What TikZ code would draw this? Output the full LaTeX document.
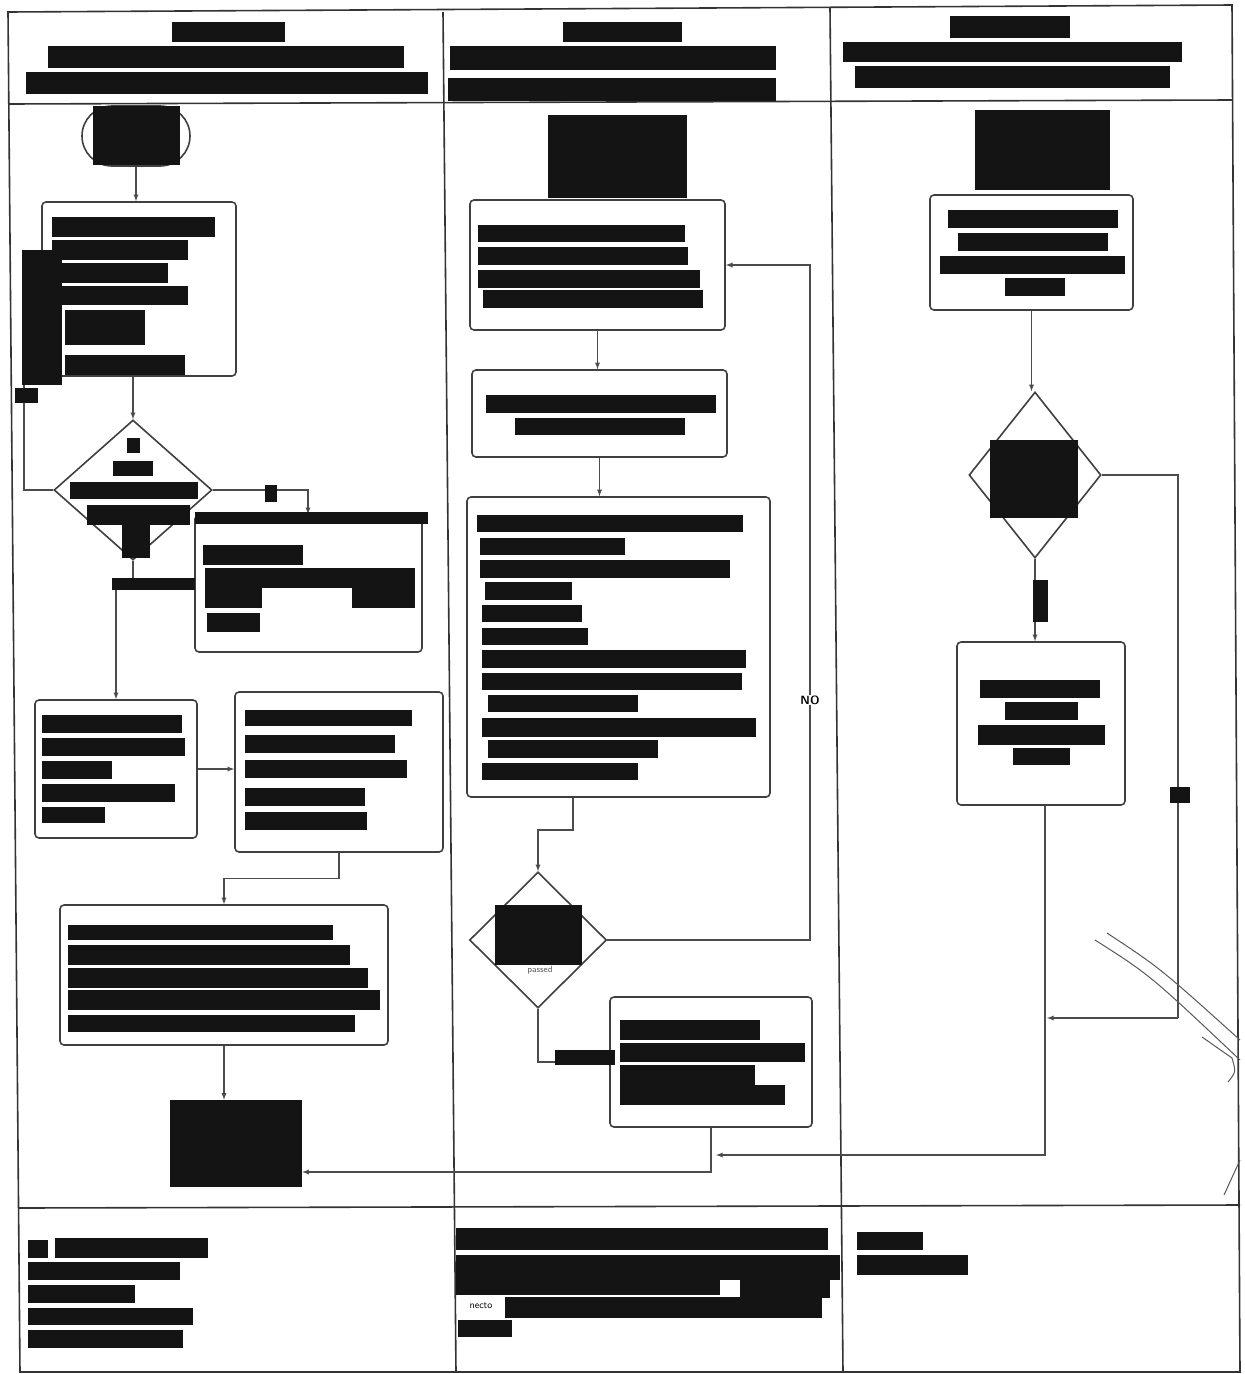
\documentclass[tikz,border=0pt]{standalone}
\usetikzlibrary{shapes.geometric,fit,calc}
\begin{document}
\begin{tikzpicture}[x=1pt,y=-1pt,
  frame/.style={draw=black!80,line width=1.6pt},
  box/.style={draw=black!75,line width=1.6pt,rounded corners=4pt,inner sep=0pt},
  dia/.style={diamond,draw=black!75,line width=1.6pt,inner sep=0pt},
  flow/.style={draw=black!70,line width=1.3pt},
  arr/.style={flow,-latex},
  bar/.style={fill=black!92},
  lbl/.style={font=\sffamily,inner sep=1pt}]
\newcommand\rb[4]{\fill[bar] (#1,#2) rectangle (#3,#4);}
\useasboundingbox (0,0) rectangle (1245,1374);
\fill[white] (0,0) rectangle (1245,1374);

% ---- table frame ----
\draw[frame] (8,12) -- (1232,5) -- (1240,1372) -- (20,1372) -- cycle;
\draw[frame] (8,104) -- (1232,100);
\draw[frame] (18,1208) -- (1240,1205);
\draw[frame] (443,12) -- (456,1372);
\draw[frame] (830,8) -- (843,1372);

% ---- column headings ----
\rb{172}{22}{285}{42}\rb{48}{46}{404}{68}\rb{26}{72}{428}{94}
\rb{563}{22}{682}{42}\rb{450}{46}{776}{70}\rb{448}{78}{776}{101}
\rb{950}{16}{1070}{38}\rb{843}{42}{1182}{62}\rb{855}{66}{1170}{88}

% ================= column 1 =================
\node[box,rounded corners=30pt,fit={(82,106) (190,166)}] (t1) {};
\rb{93}{106}{180}{165}
\node[box,fit={(42,202) (236,376)}] (b1) {};
\rb{52}{217}{215}{237}\rb{52}{240}{188}{260}\rb{52}{263}{168}{283}
\rb{52}{286}{188}{305}\rb{65}{310}{145}{345}\rb{65}{355}{185}{375}
\node[dia,minimum width=158pt,minimum height=140pt] (d1) at (133,490) {};
\rb{127}{438}{140}{453}\rb{113}{461}{153}{476}\rb{70}{482}{198}{499}
\rb{87}{505}{190}{525}\rb{122}{525}{150}{558}
\node[box,fit={(195,515) (422,652)}] (b2) {};
\rb{203}{545}{303}{565}\rb{205}{568}{415}{588}\rb{205}{588}{262}{608}
\rb{352}{588}{415}{608}\rb{207}{613}{260}{632}
\node[box,fit={(35,700) (197,838)}] (b3) {};
\rb{42}{715}{182}{733}\rb{42}{738}{185}{756}\rb{42}{761}{112}{779}
\rb{42}{784}{175}{802}\rb{42}{807}{105}{823}
\node[box,fit={(235,692) (443,852)}] (b4) {};
\rb{245}{710}{412}{726}\rb{245}{735}{395}{753}\rb{245}{760}{407}{778}
\rb{245}{788}{365}{806}\rb{245}{812}{367}{830}
\node[box,fit={(60,905) (388,1045)}] (b5) {};
\rb{68}{925}{333}{940}\rb{68}{945}{350}{965}\rb{68}{968}{368}{988}
\rb{68}{990}{380}{1010}\rb{68}{1015}{355}{1032}
\node[fill=black!92,inner sep=0pt,fit={(170,1100) (302,1187)}] (e1) {};

\draw[arr] (t1.south) -- (t1.south |- b1.north);
\draw[arr] (b1.south -| d1.north) -- (d1.north);
\coordinate (l1) at (24,300);
\draw[arr] (d1.west) -| (l1) -- (l1 -| b1.west);
\coordinate (c1) at (308,0);
\draw[arr] (d1.east) -| (c1 |- b2.north);
\draw[arr] (d1.south) -- ++(0,25) -| (b3.north);
\draw[arr] (b3.east) -- (b3.east -| b4.west);
\draw[arr] (b4.south) -- ++(0,26) -| (b5.north);
\draw[arr] (b5.south) -- (b5.south |- e1.north);
% redacted labels over connectors
\rb{22}{250}{62}{385}\rb{15}{388}{38}{403}
\rb{265}{485}{277}{502}\rb{195}{512}{428}{524}\rb{112}{578}{195}{590}

% ================= column 2 =================
\node[fill=black!92,inner sep=0pt,fit={(548,115) (687,198)}] (t2) {};
\node[box,fit={(470,200) (725,330)}] (bA) {};
\rb{478}{225}{685}{242}\rb{478}{247}{688}{265}\rb{478}{270}{700}{288}\rb{483}{290}{703}{308}
\node[box,fit={(472,370) (727,457)}] (bB) {};
\rb{486}{395}{716}{413}\rb{515}{418}{685}{435}
\node[box,fit={(467,497) (770,797)}] (bC) {};
\rb{477}{515}{743}{532}\rb{480}{538}{625}{555}\rb{480}{560}{730}{578}
\rb{485}{582}{572}{600}\rb{482}{605}{582}{622}\rb{482}{628}{588}{645}
\rb{482}{650}{746}{668}\rb{482}{673}{742}{690}\rb{488}{695}{638}{712}
\rb{482}{718}{756}{737}\rb{488}{740}{658}{758}\rb{482}{763}{638}{780}
\node[dia,minimum width=137pt,minimum height=136pt] (d2) at (538,940) {};
\rb{495}{905}{582}{965}
\node[lbl,font=\sffamily\fontsize{9}{10}\selectfont,text=black!65] (pl) at (540,970) {passed};
\node[box,fit={(610,997) (812,1127)}] (bD) {};
\rb{620}{1020}{760}{1040}\rb{620}{1043}{805}{1062}\rb{620}{1065}{755}{1085}\rb{620}{1085}{785}{1105}

\draw[arr] (bA.south) -- (bA.south |- bB.north);
\draw[arr] (bB.south) -- (bB.south |- bC.north);
\coordinate (j2) at (573,830);
\draw[arr] (j2 |- bC.south) -- (j2) -| (d2.north);
\coordinate (j3) at (810,0);
\draw[arr] (d2.east) -| (j3 |- bA.east) -- (bA.east);
\node[lbl,fill=white,font=\sffamily\bfseries\fontsize{12}{13}\selectfont] (no) at (810,700) {NO};
\draw[arr] (d2.south) |- (bD.west);
\rb{555}{1050}{615}{1065}
\coordinate (j1) at (bD.south |- 0,1172);
\draw[arr] (bD.south) -- (j1) -- (j1 -| e1.east);

% ================= column 3 =================
\node[fill=black!92,inner sep=0pt,fit={(975,110) (1110,190)}] (t3) {};
\node[box,fit={(930,195) (1133,310)}] (bE) {};
\rb{948}{210}{1118}{228}\rb{958}{233}{1108}{251}\rb{940}{256}{1125}{274}\rb{1005}{278}{1065}{296}
\node[dia,minimum width=132pt,minimum height=166pt] (d3) at (1035,475) {};
\rb{990}{440}{1078}{518}
\node[box,fit={(957,642) (1125,805)}] (bF) {};
\rb{980}{680}{1100}{698}\rb{1005}{702}{1078}{720}\rb{978}{725}{1105}{745}\rb{1013}{748}{1070}{765}

\draw[arr] (bE.south) -- (bE.south |- d3.north);
\draw[arr] (d3.south) -- (d3.south |- bF.north);
\coordinate (j4) at (1178,1018);
\coordinate (j5) at (1047,1018);
\draw[flow] (d3.east) -| (j4);
\draw[arr] (j4) -- (j5);
\coordinate (j6) at (1045,1155);
\coordinate (j7) at (716,1155);
\draw[arr] (bF.south -| j6) -- (j6) -- (j7);
\rb{1033}{580}{1048}{622}\rb{1170}{787}{1190}{803}

% pen strokes in the lower right
\draw[black!65,line width=1pt] (1095,940) .. controls (1150,975) .. (1240,1060);
\draw[black!65,line width=1pt] (1107,933) .. controls (1160,968) .. (1240,1040);
\draw[black!65,line width=1pt] (1202,1037) -- (1232,1058) .. controls (1236,1072) .. (1228,1082);
\draw[black!65,line width=1pt] (1224,1195) -- (1240,1160);

% ================= bottom row =================
\rb{28}{1240}{48}{1258}\rb{55}{1238}{208}{1258}\rb{28}{1262}{180}{1280}
\rb{28}{1285}{135}{1303}\rb{28}{1308}{193}{1325}\rb{28}{1330}{183}{1348}
\rb{456}{1228}{828}{1250}\rb{456}{1255}{840}{1280}\rb{456}{1280}{720}{1295}
\rb{740}{1280}{830}{1298}
\node[lbl,font=\sffamily\fontsize{10}{11}\selectfont] (nt) at (481,1306) {necto};
\rb{505}{1297}{822}{1318}\rb{458}{1320}{512}{1337}
\rb{857}{1232}{923}{1250}\rb{857}{1255}{968}{1275}
\end{tikzpicture}
\end{document}
